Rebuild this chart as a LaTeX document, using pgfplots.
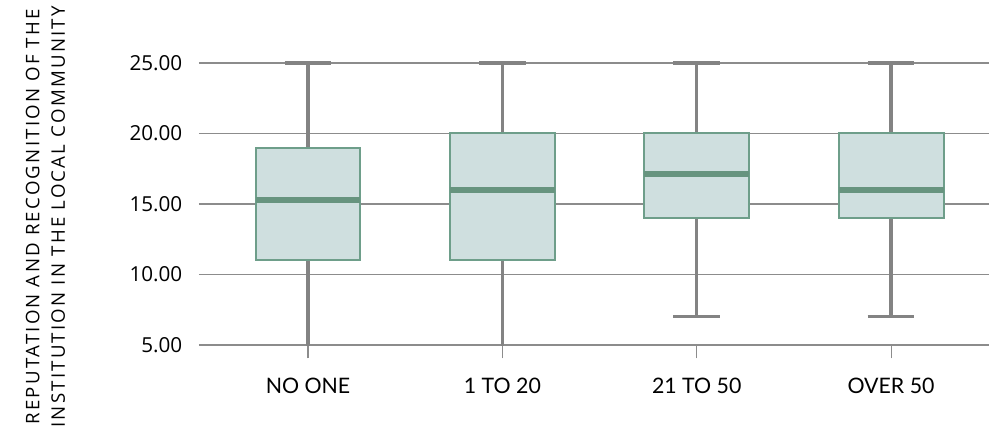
\documentclass[border=0pt]{standalone}
\usepackage{pgfplots}
\pgfplotsset{compat=1.18}
\usepgfplotslibrary{statistics}
\usepackage{fontspec}
\setmainfont{Open Sans}
\newfontfamily\xfont{Lato}
\newfontfamily\labfont[LetterSpace=12]{Open Sans}
\definecolor{boxfill}{HTML}{CFDFDF}
\definecolor{boxedge}{HTML}{6E9E8A}
\definecolor{medcol}{HTML}{67947F}
\definecolor{whiskcol}{HTML}{838383}
\definecolor{gridcol}{HTML}{8C8C8C}
\begin{document}
\begin{tikzpicture}
\begin{axis}[
  name=ax,
  scale only axis,
  width=592.5pt, height=212.56pt,
  xmin=0.439, xmax=4.504,
  ymin=5, ymax=25.1,
  xtick={1,2,3,4},
  xticklabels={NO ONE,1 TO 20,21 TO 50,OVER 50},
  ytick={5,10,15,20,25},
  yticklabel={\pgfmathprintnumber[fixed,fixed zerofill,precision=2]{\tick}},
  /pgf/number format/assume math mode=true,
  ymajorgrids,
  grid style={gridcol, line width=0.8pt},
  axis line style={draw=none},
  tick align=outside,
  xtick pos=lower,
  ytick pos=left,
  xtick style={draw=gridcol, line width=0.8pt},
  ytick style={draw=none},
  major tick length=10pt,
  xticklabel style={font=\xfont\fontsize{16}{19}\selectfont, yshift=-11pt},
  yticklabel style={font=\fontsize{15.5}{18}\selectfont, xshift=1pt},
  ylabel={REPUTATION AND RECOGNITION OF THE\\INSTITUTION IN THE LOCAL COMMUNITY},
  ylabel style={align=center, font=\labfont\fontsize{14}{19.2}\selectfont, at={(axis description cs:-0.1943,0.452)}, anchor=center},
  boxplot/draw direction=y,
  boxplot/box extend=0.54,
  boxplot/whisker extend=0.24,
  boxplot/every box/.style={draw=boxedge, fill=boxfill, line width=1.5pt},
  boxplot/every whisker/.style={draw=whiskcol, line width=2.5pt},
  boxplot/every median/.style={draw=medcol, line width=4.5pt},
]
\addplot+[mark=none, boxplot prepared={draw position=1, lower whisker=4, lower quartile=11, median=15.25, upper quartile=19, upper whisker=25}] coordinates {};
\addplot+[mark=none, boxplot prepared={draw position=2, lower whisker=4, lower quartile=11, median=16, upper quartile=20, upper whisker=25}] coordinates {};
\addplot+[mark=none, boxplot prepared={draw position=3, lower whisker=7, lower quartile=14, median=17.1, upper quartile=20, upper whisker=25}] coordinates {};
\addplot+[mark=none, boxplot prepared={draw position=4, lower whisker=7, lower quartile=14, median=16, upper quartile=20, upper whisker=25}] coordinates {};
\end{axis}
\path[use as bounding box] ([xshift=-149.25pt,yshift=-71.25pt]ax.south west) rectangle ([xshift=3pt,yshift=46.19pt]ax.north east);
\end{tikzpicture}
\end{document}
